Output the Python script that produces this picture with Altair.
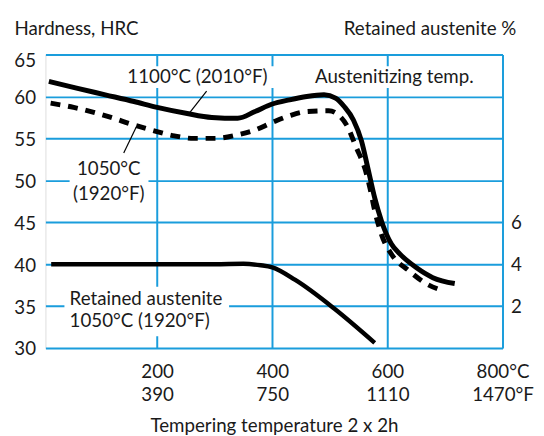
import altair as alt
import pandas as pd

# ---- data ----
# 1100 °C (2010 °F) austenitizing: hardness HRC vs tempering temperature °C
temp_1100 = [12, 60, 110, 160, 200, 250, 295, 340, 370, 400, 430, 460, 490, 510, 525,
             541, 555, 566, 578, 590, 607, 622, 650, 679, 717]
hrc_1100 = [61.8, 61.0, 60.2, 59.4, 58.7, 58.0, 57.5, 57.4, 58.2, 59.1, 59.6, 60.0, 60.2,
            59.8, 58.8, 57.2, 54.7, 51.5, 47.9, 45.1, 42.4, 41.2, 39.6, 38.4, 37.7]

# 1050 °C (1920 °F) austenitizing
temp_1050 = [15, 55, 90, 120, 155, 190, 230, 264, 300, 338, 370, 400, 430, 460, 498, 515,
             530, 546, 561, 570, 578, 590, 609, 636, 667, 699]
hrc_1050 = [59.2, 58.7, 58.1, 57.5, 56.7, 56.0, 55.3, 55.0, 55.0, 55.4, 56.0, 56.9, 57.7,
            58.2, 58.3, 57.8, 56.5, 53.9, 51.4, 49.0, 46.4, 43.5, 41.0, 39.3, 37.7, 36.8]

# Retained austenite %, 1050 °C
temp_ra = [16, 100, 200, 300, 350, 380, 400, 440, 507, 578]
ra_pct = [4.0, 4.0, 4.0, 4.0, 4.02, 3.95, 3.85, 3.25, 1.9, 0.25]

x_ticks_c = [200, 400, 600, 800]
x_ticks_c_lbl = ["200", "400", "600", "800°C"]
x_ticks_f = ["390", "750", "1110", "1470°F"]
y_ticks = [30, 35, 40, 45, 50, 55, 60, 65]
ra_ticks = [2, 4, 6]

# annotation texts
ann_text = ["1100°C (2010°F)", "Austenitizing temp.", "1050°C", "(1920°F)",
            "Retained austenite", "1050°C (1920°F)"]
ann_t = [270, 612, 116, 116, 48, 48]
ann_h = [62.3, 62.3, 51.4, 48.4, 35.9, 33.2]
ann_align = ["center", "center", "center", "center", "left", "left"]

# white boxes behind the annotations (they interrupt the grid lines)
box_t1 = [137, 465, 48, 39]
box_t2 = [407, 760, 185, 325]
box_h1 = [61.0, 61.0, 47.1, 31.4]
box_h2 = [63.6, 63.6, 52.6, 37.3]

# leader lines
lead_t1 = [286, 142]
lead_h1 = [60.65, 53.25]
lead_t2 = [257, 164]
lead_h2 = [58.1, 56.4]

BLUE = "#1a9ddc"
INK = "#1a1a1a"
FONT = "Lato"
FS = 19

df_1100 = pd.DataFrame({"t": temp_1100, "h": hrc_1100})
df_1050 = pd.DataFrame({"t": temp_1050, "h": hrc_1050})
df_ra = pd.DataFrame({"t": temp_ra, "r": ra_pct})
df_ann = pd.DataFrame({"txt": ann_text, "t": ann_t, "h": ann_h, "al": ann_align})
df_box = pd.DataFrame({"t1": box_t1, "t2": box_t2, "h1": box_h1, "h2": box_h2})
df_lead = pd.DataFrame({"t1": lead_t1, "h1": lead_h1, "t2": lead_t2, "h2": lead_h2})

label_expr = " : ".join(
    f"datum.value == {c} ? ['{cl}', '{fl}']"
    for c, cl, fl in zip(x_ticks_c, x_ticks_c_lbl, x_ticks_f)
) + " : datum.label"

x_scale = alt.Scale(domain=[6, 800], nice=False, zero=False)
y_scale = alt.Scale(domain=[30, 65], nice=False, zero=False)

x_axis = alt.Axis(values=x_ticks_c, labelExpr=label_expr, grid=True, gridColor=BLUE,
                  gridWidth=2, ticks=False, domain=False, labelFontSize=FS,
                  labelPadding=15, labelLineHeight=23.5, labelFlush=False,
                  labelColor=INK, labelFont=FONT,
                  title="Tempering temperature 2 x 2h", titleFontSize=FS,
                  titleFontWeight="normal", titleFont=FONT, titleColor=INK,
                  titlePadding=12)
y_axis = alt.Axis(values=y_ticks, grid=True, gridColor=BLUE, gridWidth=2, ticks=False,
                  domain=False, labelFontSize=FS, labelPadding=10, labelColor=INK,
                  labelFont=FONT,
                  labelOffset={"condition": {"test": "datum.value == 65", "value": 6},
                               "value": 1},
                  title="Hardness, HRC", titleAngle=0, titleAlign="left",
                  titleBaseline="alphabetic", titleX=-32, titleY=-20.5, titleFontSize=FS,
                  titleFontWeight="normal", titleFont=FONT, titleColor=INK)

X = alt.X("t:Q", scale=x_scale, axis=x_axis)
Y = alt.Y("h:Q", scale=y_scale, axis=y_axis)

boxes = alt.Chart(df_box).mark_rect(fill="white").encode(
    x=alt.X("t1:Q", scale=x_scale, axis=x_axis), x2="t2:Q",
    y=alt.Y("h1:Q", scale=y_scale, axis=y_axis), y2="h2:Q")

line_1100 = alt.Chart(df_1100).mark_line(color="black", strokeWidth=5,
                                         interpolate="monotone").encode(x=X, y=Y)
line_1050 = alt.Chart(df_1050).mark_line(color="black", strokeWidth=5, strokeDash=[10, 8],
                                         interpolate="monotone").encode(x=X, y=Y)

leads = alt.Chart(df_lead).mark_rule(color="black", strokeWidth=1.2).encode(
    x=alt.X("t1:Q", scale=x_scale, axis=x_axis), x2="t2:Q",
    y=alt.Y("h1:Q", scale=y_scale, axis=y_axis), y2="h2:Q")

text_center = alt.Chart(df_ann[df_ann.al == "center"]).mark_text(
    fontSize=FS, font=FONT, color=INK, baseline="middle", align="center"
).encode(x=X, y=Y, text="txt:N")
text_left = alt.Chart(df_ann[df_ann.al == "left"]).mark_text(
    fontSize=FS, font=FONT, color=INK, baseline="middle", align="left"
).encode(x=X, y=Y, text="txt:N")

hard = alt.layer(boxes, leads, line_1100, line_1050, text_center, text_left)

ra_line = alt.Chart(df_ra).mark_line(color="black", strokeWidth=4.5,
                                     interpolate="monotone").encode(
    x=X,
    y=alt.Y("r:Q", scale=alt.Scale(domain=[0, 14], nice=False, zero=False),
            axis=alt.Axis(orient="right", values=ra_ticks, grid=False, ticks=False,
                          domain=False, labelFontSize=FS, labelPadding=8,
                          labelColor=INK, labelFont=FONT,
                          title="Retained austenite %", titleAngle=0, titleAlign="right",
                          titleBaseline="alphabetic", titleX=13.5, titleY=-20.5,
                          titleFontSize=FS, titleFontWeight="normal", titleFont=FONT,
                          titleColor=INK)))

chart = alt.layer(hard, ra_line).resolve_scale(y="independent").properties(
    width=464, height=298,
    padding={"left": 38, "top": 44, "right": 34, "bottom": 86},
    autosize=alt.AutoSizeParams(type="none"),
).configure_view(stroke=BLUE, strokeWidth=2).configure(font=FONT)

chart.save("out.html", embed_options={"renderer": "svg", "actions": False})
